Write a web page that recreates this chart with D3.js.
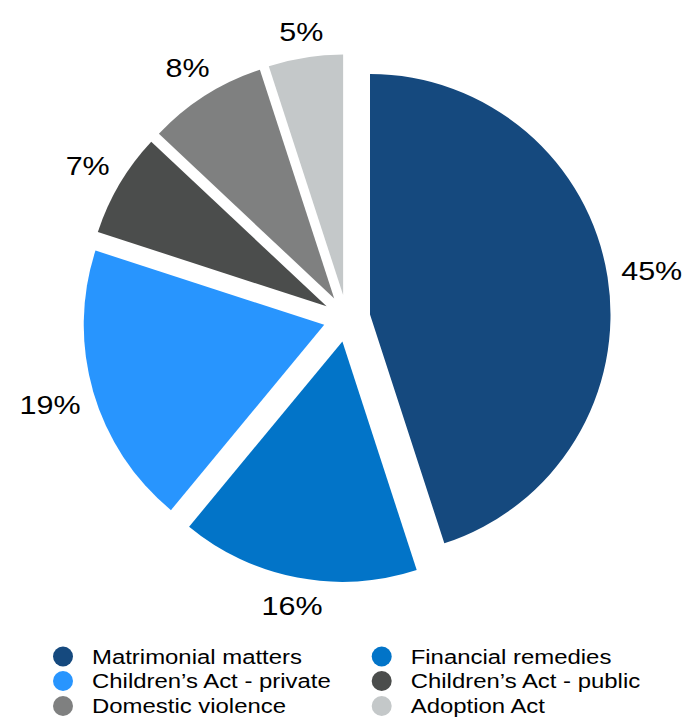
<!DOCTYPE html>
<html>
<head>
<meta charset="utf-8">
<script src="https://cdn.jsdelivr.net/npm/d3@7"></script>
<style>
  html, body { margin: 0; padding: 0; background: #fff; }
  svg { display: block; }
  text { font-family: "Liberation Sans", Arial, sans-serif; fill: #000; }
</style>
</head>
<body>
<svg id="chart" width="693" height="719"></svg>
<script>
const categories = ["Matrimonial matters", "Financial remedies", "Children\u2019s Act - private",
                    "Children\u2019s Act - public", "Domestic violence", "Adoption Act"];
const values = [45, 16, 19, 7, 8, 5];
const labels = ["45%", "16%", "19%", "7%", "8%", "5%"];
const colors = ["#15497e", "#0274c8", "#2895fe", "#4b4d4c", "#7f8080", "#c4c8c9"];

const svg = d3.select("#chart");
const cx = 346.8, cy = 318.3, R = 240.5, explode = 23.5;
const labelBase = 277;
const sx = 1.15; // horizontal text stretch seen in the reference

const data = categories.map((c, i) => ({ cat: c, value: values[i], label: labels[i], color: colors[i] }));
const pie = d3.pie().sort(null).value(d => d.value).startAngle(0).endAngle(2 * Math.PI);
const arcs = pie(data);
const arc = d3.arc().innerRadius(0).outerRadius(R);

const g = svg.append("g").attr("transform", `translate(${cx},${cy})`);

g.selectAll("path.slice").data(arcs).enter().append("path")
  .attr("class", "slice")
  .attr("d", arc)
  .attr("fill", d => d.data.color)
  .attr("transform", d => {
    const m = (d.startAngle + d.endAngle) / 2;
    return `translate(${Math.sin(m) * explode},${-Math.cos(m) * explode})`;
  });

// labels outside end
const lblFont = 26.5;
g.selectAll("text.lbl").data(arcs).enter().append("text")
  .attr("class", "lbl")
  .attr("font-size", lblFont)
  .attr("text-anchor", "middle")
  .attr("dy", "0.36em")
  .text(d => d.data.label)
  .each(function(d) {
    const m = (d.startAngle + d.endAngle) / 2;
    const ux = Math.sin(m), uy = -Math.cos(m);
    const w = this.getComputedTextLength() * sx;
    const hw = w / 2, hh = 10;
    const ext = Math.abs(ux) * hw + Math.abs(uy) * hh;
    const dist = labelBase + ext;
    d3.select(this).attr("transform", `translate(${ux * dist},${uy * dist}) scale(${sx},1)`);
  });

// legend
const legCols = [63, 381.7];
const legRows = [656.5, 681, 706];
const legend = svg.append("g");
const items = legend.selectAll("g.item").data(data).enter().append("g")
  .attr("class", "item")
  .attr("transform", (d, i) => `translate(${legCols[i % 2]},${legRows[Math.floor(i / 2)]})`);
items.append("ellipse").attr("rx", 10).attr("ry", 10).attr("fill", d => d.color);
items.append("text")
  .attr("font-size", 20.8)
  .attr("transform", `translate(29,7.3) scale(${sx},1)`)
  .text(d => d.cat);
</script>
</body>
</html>
